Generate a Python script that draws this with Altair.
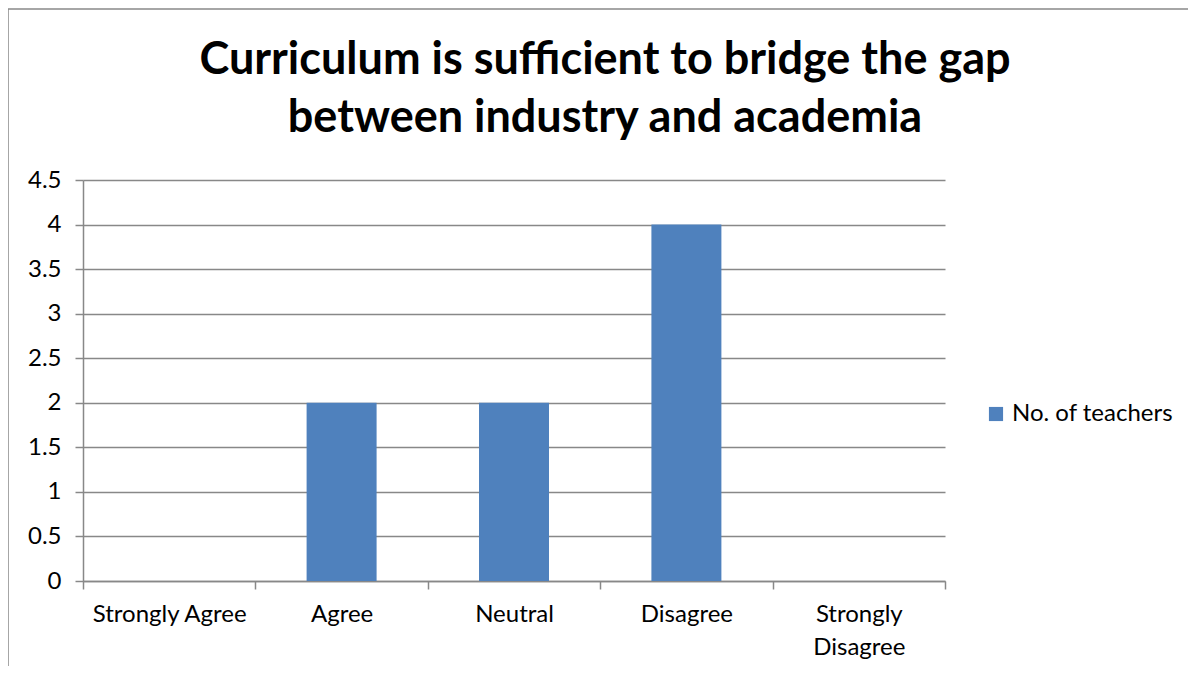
import altair as alt
import pandas as pd

categories = ["Strongly Agree", "Agree", "Neutral", "Disagree", "Strongly Disagree"]
teachers = [0, 2, 2, 4, 0]
series_name = "No. of teachers"
title_lines = ["Curriculum is sufficient to bridge the gap", "between industry and academia"]
y_ticks = [0, 0.5, 1, 1.5, 2, 2.5, 3, 3.5, 4, 4.5]

df = pd.DataFrame({
    "Response": categories,
    "Count": teachers,
    "Series": [series_name] * len(categories),
})

FONT = "Lato"
GRID = "#888888"
BAR = "#4F81BD"

bars = alt.Chart(df).mark_bar(width=alt.RelativeBandSize(0.406)).encode(
    x=alt.X(
        "Response:N",
        sort=categories,
        scale=alt.Scale(paddingInner=0, paddingOuter=0),
        axis=alt.Axis(
            title=None,
            labelAngle=0,
            tickBand="extent",
            labelFont=FONT,
            labelFontSize=24,
            labelColor="black",
            labelPadding=13,
            labelLineHeight=33,
            labelBaseline="top",
            labelExpr="datum.label == 'Strongly Disagree' ? ['Strongly', 'Disagree'] : datum.label",
            tickSize=8,
            tickColor=GRID,
            tickWidth=1.5,
            domainColor=GRID,
            domainWidth=1.5,
            grid=False,
        ),
    ),
    y=alt.Y(
        "Count:Q",
        scale=alt.Scale(domain=[0, 4.5], nice=False),
        axis=alt.Axis(
            title=None,
            values=y_ticks,
            labelExpr="datum.value",
            labelFont=FONT,
            labelFontSize=24,
            labelColor="black",
            labelPadding=14,
            tickSize=8,
            tickColor=GRID,
            tickWidth=1.5,
            domainColor=GRID,
            domainWidth=1.5,
            grid=True,
            gridColor=GRID,
            gridWidth=1.5,
        ),
    ),
    color=alt.Color(
        "Series:N",
        scale=alt.Scale(range=[BAR]),
        legend=alt.Legend(
            title=None,
            orient="none",
            legendX=901,
            legendY=222,
            symbolType="square",
            symbolSize=200,
            symbolStrokeWidth=0,
            labelFont=FONT,
            labelFontSize=24,
            labelColor="black",
            labelOffset=4,
            labelLimit=300,
        ),
    ),
)

title = alt.Chart(alt.Data(values=[{}])).mark_text(
    text=title_lines,
    font=FONT,
    fontSize=45,
    fontWeight="bold",
    color="black",
    align="center",
    baseline="alphabetic",
    lineHeight=58,
).encode(x=alt.value(522), y=alt.value(-106))

frame_top = alt.Chart(alt.Data(values=[{}])).mark_rule(color=GRID, strokeWidth=1.5).encode(
    x=alt.value(-75), x2=alt.value(1110), y=alt.value(-171)
)
frame_left = alt.Chart(alt.Data(values=[{}])).mark_rule(color=GRID, strokeWidth=1.5).encode(
    x=alt.value(-75), y=alt.value(-171), y2=alt.value(500)
)

chart = alt.layer(bars, title, frame_top, frame_left).properties(
    width=862,
    height=401,
    padding={"left": 75, "top": 172, "right": 243, "bottom": 85},
    autosize=alt.AutoSizeParams(type="none"),
).configure_view(stroke=None)

chart.save("out.html", embed_options={"renderer": "svg", "actions": False})
